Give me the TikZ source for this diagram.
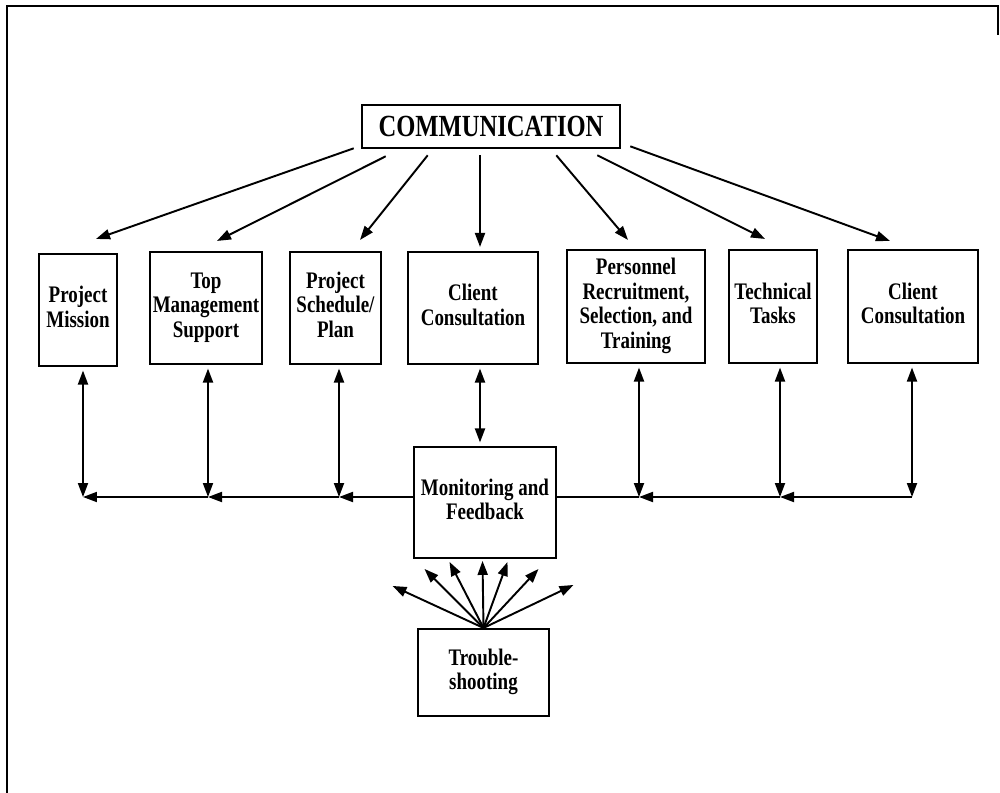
\documentclass[tikz,border=0pt]{standalone}
\usepackage{fontspec}
\setmainfont{Liberation Serif}[FakeStretch = 0.8]
\usetikzlibrary{arrows.meta, calc}

\tikzset{%
	every node/.style = {font = \bfseries\fontsize{13.5}{14}\selectfont},
	block/.style = {rectangle, draw, line width = 1.2pt, inner sep = 0pt, align = center},
	headline/.style = {block, line width = 1.5pt, font = \bfseries\fontsize{17.5}{20}\selectfont},
	oneway/.style = {-{Triangle[length = 0.28cm, width = 0.2cm]}, line width = 1.1pt},
	twoway/.style = {{Triangle[length = 0.28cm, width = 0.2cm]}-{Triangle[length = 0.28cm, width = 0.2cm]}, line width = 1.1pt},
	plainline/.style = {line width = 1.1pt},
	frameline/.style = {line width = 1.6pt}
}

\begin{document}
\begin{tikzpicture}[x = 0.02cm, y = -0.02cm]
	\useasboundingbox (0,0) rectangle (1000,793);
	\draw[frameline] (7,800) -- (7,6) -- (998,6) -- (998,35);

	\node[headline, minimum width = 5.16cm, minimum height = 0.86cm]	(comm)		at (491,126.5)	{COMMUNICATION};

	\node[block, minimum width = 1.56cm, minimum height = 2.24cm]	(mission)	at (78,310)		{\begin{tabular}{@{}c@{}}Project\\Mission\end{tabular}};
	\node[block, minimum width = 2.24cm, minimum height = 2.24cm]	(topmgmt)	at (206,308)	{\begin{tabular}{@{}c@{}}Top\\Management\\Support\end{tabular}};
	\node[block, minimum width = 1.82cm, minimum height = 2.24cm]	(schedule)	at (335.5,308)	{\begin{tabular}{@{}c@{}}Project\\Schedule/\\Plan\end{tabular}};
	\node[block, minimum width = 2.6cm, minimum height = 2.24cm]	(client)	at (473,308)	{\begin{tabular}{@{}c@{}}Client\\Consultation\end{tabular}};
	\node[block, minimum width = 2.76cm, minimum height = 2.26cm]	(personnel)	at (636,306.5)	{\begin{tabular}{@{}c@{}}Personnel\\Recruitment,\\Selection, and\\Training\end{tabular}};
	\node[block, minimum width = 1.76cm, minimum height = 2.26cm]	(technical)	at (773,306.5)	{\begin{tabular}{@{}c@{}}Technical\\Tasks\end{tabular}};
	\node[block, minimum width = 2.6cm, minimum height = 2.26cm]	(client2)	at (913,306.5)	{\begin{tabular}{@{}c@{}}Client\\Consultation\end{tabular}};

	\node[block, minimum width = 2.84cm, minimum height = 2.22cm]	(monitor)	at (485,502.5)	{\begin{tabular}{@{}c@{}}Monitoring and\\Feedback\end{tabular}};
	\node[block, minimum width = 2.62cm, minimum height = 1.74cm]	(trouble)	at (483.5,672.5)	{\begin{tabular}{@{}c@{}}Trouble-\\shooting\end{tabular}};

	\coordinate (jmission)	at (83,497);
	\coordinate (jtop)		at (208,497);
	\coordinate (jschedule)	at (339,497);
	\coordinate (jclient)	at (480,497);
	\coordinate (jpers)		at (639,497);
	\coordinate (jtech)		at (780,497);
	\coordinate (jclient2)	at (912,497);

	\draw[oneway] ($(comm.south west)+(-7,-1)$)	-- ($(mission.north)+(18,-14)$);
	\draw[oneway] ($(comm.south west)+(25,7)$)	-- ($(topmgmt.north)+(11,-10)$);
	\draw[oneway] ($(comm.south west)+(67,6)$)	-- ($(schedule.north)+(24.5,-11)$);
	\draw[oneway] ($(comm.south)+(-11,6)$)		-- ($(client.north)+(7,-4)$);
	\draw[oneway] ($(comm.south east)+(-65,6)$)	-- ($(personnel.north)+(-8,-9)$);
	\draw[oneway] ($(comm.south east)+(-24,6)$)	-- ($(technical.north)+(-8,-10)$);
	\draw[oneway] ($(comm.south east)+(9,-3)$)	-- ($(client2.north)+(-23,-8)$);

	\draw[twoway, shorten <= 2] (jmission |- mission.south)	-- (jmission);
	\draw[twoway, shorten <= 2] (jtop |- topmgmt.south)		-- (jtop);
	\draw[twoway, shorten <= 2] (jschedule |- schedule.south)	-- (jschedule);
	\draw[twoway, shorten <= 2, shorten >= 2] (jclient |- client.south)	-- (jclient |- monitor.north);
	\draw[twoway, shorten <= 2] (jpers |- personnel.south)	-- (jpers);
	\draw[twoway, shorten <= 2] (jtech |- technical.south)	-- (jtech);
	\draw[twoway, shorten <= 2] (jclient2 |- client2.south)	-- (jclient2);

	\draw[oneway] (monitor.west |- jmission) -- (jschedule);
	\draw[oneway] (jschedule) -- (jtop);
	\draw[oneway] (jtop) -- (jmission);
	\draw[oneway] (jclient2) -- (jtech);
	\draw[oneway] (jtech) -- (jpers);
	\draw[plainline] (jpers) -- (monitor.east |- jpers);

	\draw[oneway] (trouble.north) -- ($(trouble.north)+(-91,-42)$);
	\draw[oneway] (trouble.north) -- ($(trouble.north)+(-59,-59)$);
	\draw[oneway] (trouble.north) -- ($(trouble.north)+(-34,-66)$);
	\draw[oneway] (trouble.north) -- ($(trouble.north)+(-1,-67)$);
	\draw[oneway] (trouble.north) -- ($(trouble.north)+(24,-66)$);
	\draw[oneway] (trouble.north) -- ($(trouble.north)+(55,-59)$);
	\draw[oneway] (trouble.north) -- ($(trouble.north)+(90,-43)$);
\end{tikzpicture}
\end{document}
